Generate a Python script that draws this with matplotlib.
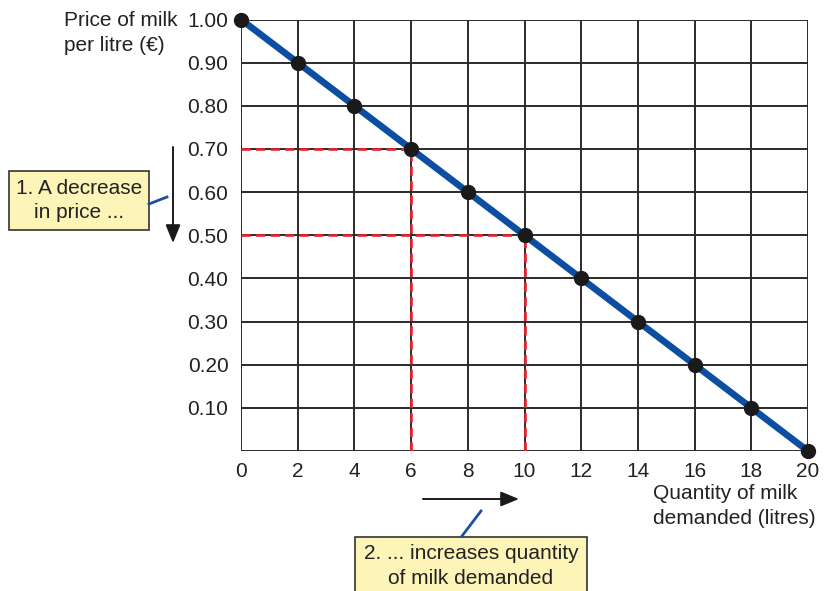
import matplotlib
matplotlib.use("Agg")
import matplotlib.pyplot as plt
from matplotlib.patches import FancyArrowPatch, Rectangle

plt.rcParams['font.family'] = ['Liberation Sans', 'DejaVu Sans']

quantity = [0, 2, 4, 6, 8, 10, 12, 14, 16, 18, 20]
price = [1.00, 0.90, 0.80, 0.70, 0.60, 0.50, 0.40, 0.30, 0.20, 0.10, 0.00]
x_ticks = [0, 2, 4, 6, 8, 10, 12, 14, 16, 18, 20]
y_ticks = [0.10, 0.20, 0.30, 0.40, 0.50, 0.60, 0.70, 0.80, 0.90, 1.00]
y_labels = ['0.10', '0.20', '0.30', '0.40', '0.50', '0.60', '0.70', '0.80', '0.90', '1.00']
highlight_q = [6, 10]
highlight_p = [0.70, 0.50]

W, H = 827, 591
FS = 15
LS = 1.35

def fx(px):
    return px / W

def fy(py):
    return 1 - py / H

fig = plt.figure(figsize=(W / 100, H / 100), dpi=100)
ax = fig.add_axes([fx(241), fy(451), (808 - 241) / W, (451 - 19.5) / H])
ax.set_xlim(0, 20)
ax.set_ylim(0, 1.0)

grid_c = '#2b2b2b'
for x in x_ticks:
    ax.plot([x, x], [0, 1], color=grid_c, lw=1.4, zorder=1, solid_capstyle='butt')
for y in [0.0] + y_ticks:
    ax.plot([0, 20], [y, y], color=grid_c, lw=1.4, zorder=1, solid_capstyle='butt')

for s in ax.spines.values():
    s.set_visible(False)

ax.set_xticks(x_ticks)
ax.set_xticklabels([str(v) for v in x_ticks])
ax.set_yticks(y_ticks)
ax.set_yticklabels(y_labels)
ax.tick_params(length=0, labelsize=FS, colors='#222222')
ax.tick_params(axis='x', pad=8)
ax.tick_params(axis='y', pad=9)

red = '#e8222a'
for q, p in zip(highlight_q, highlight_p):
    ax.plot([0, q], [p, p], color=red, lw=1.9, ls=(0, (3.5, 2.0)), zorder=2)
    ax.plot([q, q], [0, p], color=red, lw=1.9, ls=(0, (3.5, 2.0)), zorder=2)

ax.plot(quantity, price, color='#0b4ea2', lw=4.8, zorder=3, solid_capstyle='butt')
ax.plot(quantity, price, 'o', color='#1a1a1a', ms=10, zorder=4, clip_on=False)

# axis titles
fig.text(fx(64), fy(33), 'Price of milk\nper litre (€)', fontsize=FS, color='#222222',
         ha='left', va='center', linespacing=LS)
fig.text(fx(653), fy(506), 'Quantity of milk\ndemanded (litres)', fontsize=FS, color='#222222',
         ha='left', va='center', linespacing=LS)

box_fc = '#fdf4b8'
# annotation box 1
fig.add_artist(Rectangle((fx(9), fy(230)), (149 - 9) / W, (230 - 171) / H,
                         transform=fig.transFigure, fc=box_fc, ec='#333333', lw=1.2))
fig.text(fx(79), fy(200.5), '1. A decrease\nin price ...', fontsize=FS, color='#222222',
         ha='center', va='center', linespacing=LS)
fig.add_artist(plt.Line2D([fx(149), fx(167)], [fy(204), fy(197)], color='#1f4fa0', lw=2.0))
fig.add_artist(FancyArrowPatch((fx(173), fy(147)), (fx(173), fy(243)),
                               transform=fig.transFigure,
                               arrowstyle='-|>,head_length=11,head_width=4.5',
                               color='#1a1a1a', lw=1.4, shrinkA=0, shrinkB=0))

# annotation box 2
fig.add_artist(Rectangle((fx(355), fy(600)), (587 - 355) / W, (600 - 537) / H,
                         transform=fig.transFigure, fc=box_fc, ec='#333333', lw=1.2,
                         clip_on=False))
fig.text(fx(471), fy(566), '2. ... increases quantity\nof milk demanded', fontsize=FS, color='#222222',
         ha='center', va='center', linespacing=LS)
fig.add_artist(plt.Line2D([fx(462), fx(481)], [fy(536), fy(511)], color='#1f4fa0', lw=2.0))
fig.add_artist(FancyArrowPatch((fx(423), fy(499)), (fx(519), fy(499)),
                               transform=fig.transFigure,
                               arrowstyle='-|>,head_length=11,head_width=4.5',
                               color='#1a1a1a', lw=1.4, shrinkA=0, shrinkB=0))

fig.savefig('out.png', dpi=100)
